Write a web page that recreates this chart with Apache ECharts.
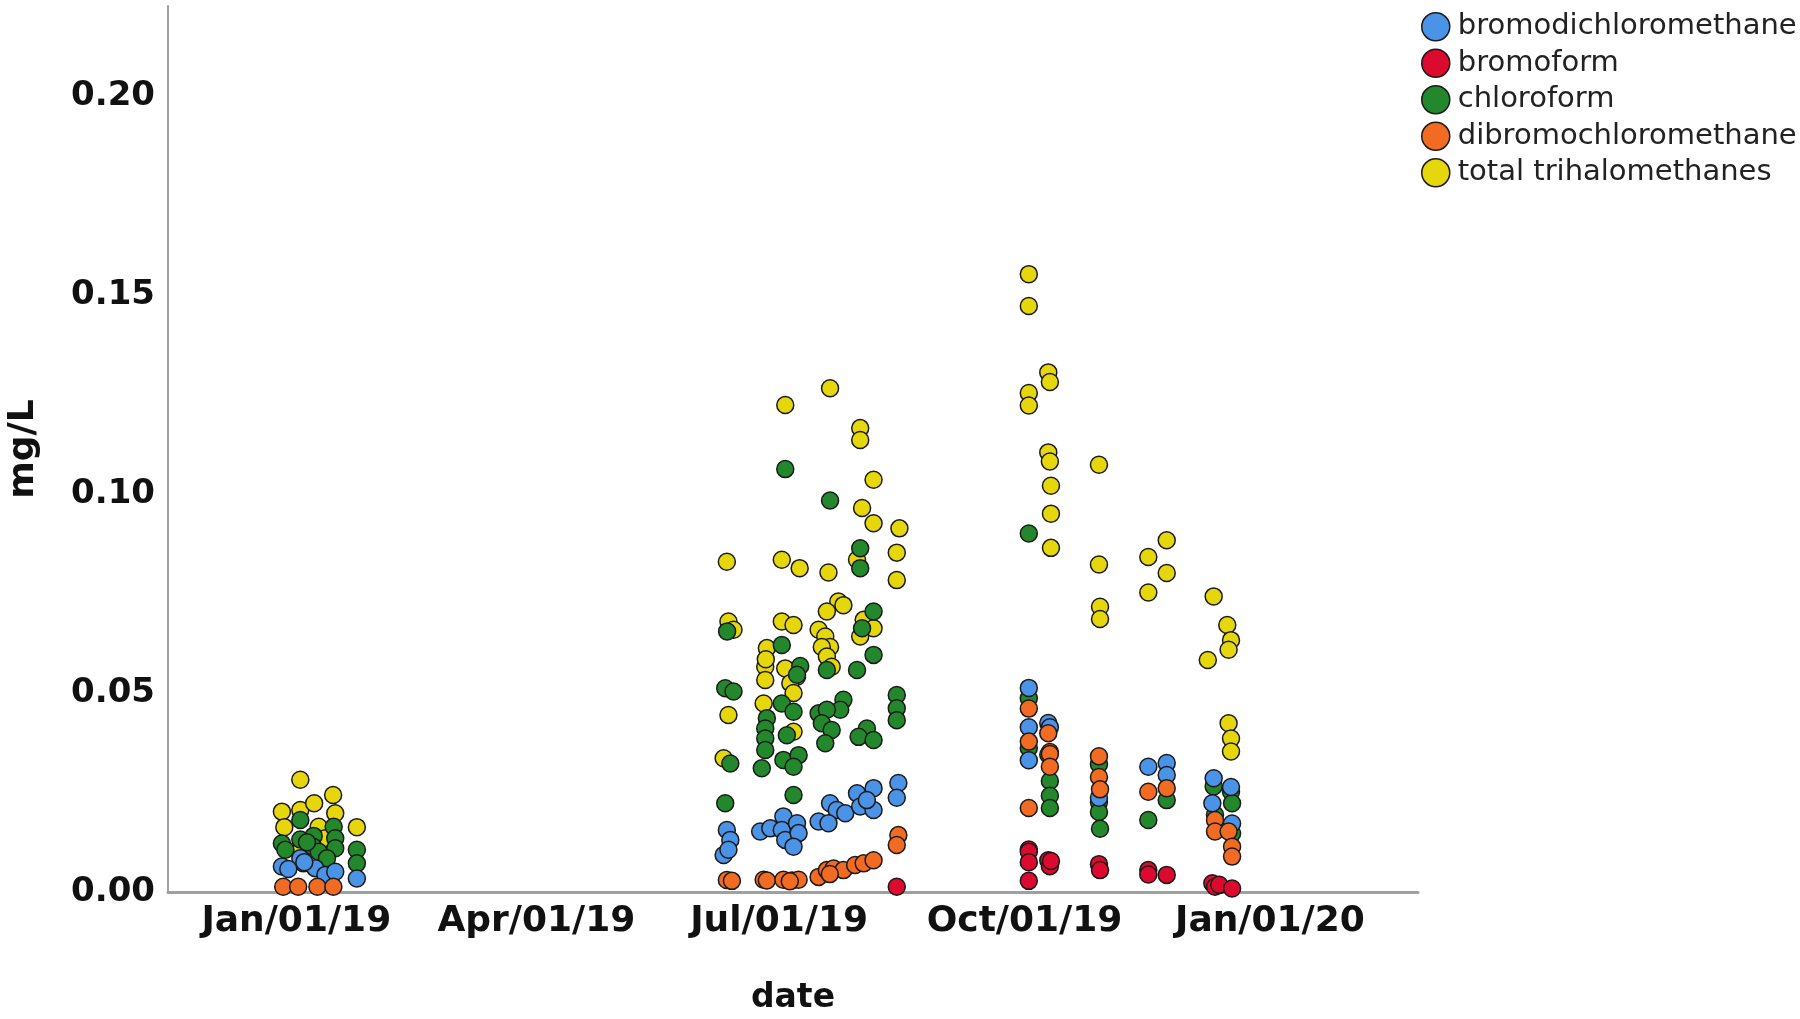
<!DOCTYPE html>
<html>
<head>
<meta charset="utf-8">
<script src="https://cdn.jsdelivr.net/npm/echarts@6/dist/echarts.min.js"></script>
<style>
	html, body { margin: 0; padding: 0; background: #fff; }
	#chart { width: 1800px; height: 1019px; }
</style>
</head>
<body>
<div id="chart"></div>
<script>
// x = days since Jan/01/19, y = mg/L
var tickDays = [0, 90, 181, 273, 365];
var tickLabels = ['Jan/01/19', 'Apr/01/19', 'Jul/01/19', 'Oct/01/19', 'Jan/01/20'];
var yTicks = [0, 0.05, 0.10, 0.15, 0.20];

var bromodichloromethane = [
	// Jan
	[-5.4,.0064],[1.5,.0085],[7.1,.006],[10.9,.0043],[14.6,.0051],[22.7,.0034],[3,.0075],[-3,.0058],
	// Jun-Aug
	[161.4,.0156],[162.7,.0131],[160.2,.0093],[162,.0106],[173.9,.0152],[177.7,.016],[182.6,.019],[182,.0156],
	[183.3,.0131],[187.7,.0173],[188.3,.0148],[186.4,.0114],[195.8,.0177],[200.1,.0223],[202.6,.0206],[199.5,.0173],
	[205.8,.0198],[210.2,.0248],[216.4,.0261],[211.4,.0215],[216.4,.0206],[213.9,.0231],[225.7,.0274],[225.1,.0237],
	// Oct-Dec
	[274.6,.0513],[274.6,.0414],[274.6,.0331],[281.9,.0425],[282.5,.0414],[300.9,.0237],[319.4,.0315],[326.3,.0324],
	[326.3,.0294],[343.9,.0286],[343.4,.0223],[350.4,.0264],[350.8,.0172]
];

var bromoform = [
	[225.1,.0013],
	[274.6,.0107],[274.6,.0101],[274.6,.0075],[274.6,.0028],[281.9,.008],[282.5,.0065],[282.9,.0078],[300.9,.007],
	[301.3,.0055],[319.4,.0055],[319.4,.0044],[326.3,.0043],[343.4,.0022],[344.4,.0013],[346,.0018],[350.8,.0009]
];

var chloroform = [
	[1.5,.0181],[14,.0164],[-5.4,.0122],[-4.1,.0106],[1.5,.0132],[6.5,.0141],[6.3,.0114],[8.4,.0101],
	[14.6,.0135],[14.6,.011],[2.7,.0072],[11.5,.0085],[22.7,.0106],[22.7,.0072],[4,.0125],
	[183.3,.1063],[200.1,.0984],[211.4,.0864],[211.4,.0814],[212.1,.0663],[216.4,.0705],[216.4,.0596],[210.2,.0558],
	[182,.0621],[188.9,.0568],[187.7,.0546],[198.9,.0558],[160.8,.0512],[163.9,.0504],[225.1,.0495],[225.1,.0462],
	[225.1,.0432],[182,.0474],[186.4,.0453],[205.1,.0483],[203.9,.0458],[195.8,.0449],[198.9,.0458],[197,.0424],
	[200.7,.0407],[198.3,.0374],[176.4,.0437],[175.8,.0411],[175.8,.0386],[175.8,.0357],[174.5,.0311],[183.9,.0394],
	[182.6,.0332],[188.3,.0344],[186.4,.0315],[213.9,.0411],[210.8,.039],[216.4,.0382],[162.7,.0323],[160.8,.0223],
	[186.4,.0244],[161.5,.0655],
	[274.6,.0901],[274.6,.0487],[274.6,.0362],[281.9,.0345],[282.5,.0279],[282.5,.0242],[282.5,.0211],[300.9,.0321],
	[300.9,.0226],[300.9,.0201],[301.3,.0159],[319.4,.0181],[326.3,.0231],[343.9,.0265],[344.4,.0194],[350.4,.0252],
	[350.8,.0223],[350.8,.0147]
];

var dibromochloromethane = [
	[-4.9,.0013],[0.7,.0013],[7.9,.0013],[13.9,.0013],
	[161.4,.003],[163.3,.0028],[175.2,.0031],[176.4,.0029],[182.6,.0031],[185.8,.0029],[188.3,.0031],[195.8,.0038],
	[198.9,.0055],[201.4,.0059],[205.1,.0055],[209.5,.0068],[212.7,.0072],[216.4,.008],[225.7,.0143],[225.1,.0118],
	[185,.0027],[200,.0045],
	[274.6,.0461],[274.6,.0378],[274.6,.0211],[281.9,.0399],[282.5,.0352],[282.5,.0347],[282.5,.0315],[300.9,.0341],
	[300.9,.0289],[301.3,.0258],[319.4,.0252],[326.3,.0261],[344.4,.0181],[344.4,.0152],[349.5,.0152],[350.8,.0114],
	[350.8,.0089]
];

var totalTrihalomethanes = [
	[1.5,.0282],[-5.4,.0202],[1.5,.0206],[6.7,.0223],[13.8,.0244],[14.6,.0198],[-4.5,.0163],[8.4,.0164],
	[10.9,.0135],[22.7,.0163],[2,.011],
	[200.1,.1266],[183.3,.1224],[211.4,.1166],[211.4,.1136],[216.4,.1036],[212.1,.0965],[216.4,.0927],[226.1,.0914],
	[225.1,.0853],[225.1,.0784],[161.4,.083],[182,.0835],[188.7,.0814],[199.5,.0803],[210.2,.0835],[203.2,.073],
	[205.1,.0721],[198.9,.0705],[195.8,.0659],[198.3,.0642],[200.1,.0616],[197,.0616],[198.9,.0592],[200.7,.0566],
	[212.7,.0684],[216.4,.0663],[211.4,.0642],[182,.068],[186.4,.0671],[162,.068],[163.9,.0659],[176.4,.0613],
	[175.8,.0566],[175.8,.0533],[183.3,.0562],[187.7,.0541],[185.2,.0525],[186.4,.05],[175.2,.0474],[162,.0445],
	[186.4,.0403],[160.2,.0336],[176,.0585],
	[274.6,.1553],[274.6,.1473],[274.6,.1254],[274.6,.1223],[281.9,.1306],[282.5,.1282],[281.9,.1105],[282.5,.1082],
	[282.9,.1021],[282.9,.0951],[282.9,.0865],[300.9,.1074],[300.9,.0823],[301.3,.0717],[301.3,.0686],[319.4,.0842],
	[319.4,.0753],[326.3,.0884],[326.3,.0802],[343.9,.0743],[341.7,.0583],[349,.0671],[350.4,.0633],[349.5,.0609],
	[349.5,.0424],[350.4,.0386],[350.4,.0353]
];

var font = 'DejaVu Sans';

function dots(name, data, color, z) {
	return {
		name : name,
		type : 'scatter',
		data : data,
		symbolSize : 17,
		z : z,
		itemStyle : { color : color, borderColor : '#1a1a1a', borderWidth : 1.5, opacity : 1 },
		emphasis : { disabled : true }
	};
}

var chart = echarts.init(document.getElementById('chart'));
chart.setOption({
	animation : false,
	backgroundColor : '#fff',
	grid : { left : 168, right : 382, top : 6, bottom : 127, outerBoundsMode : 'none', containLabel : false },
	legend : {
		orient : 'vertical',
		left : 1416,
		top : 7,
		itemWidth : 28,
		itemHeight : 28,
		itemGap : 7,
		icon : 'circle',
		data : ['bromodichloromethane', 'bromoform', 'chloroform', 'dibromochloromethane', 'total trihalomethanes'],
		itemStyle : { borderColor : '#1a1a1a', borderWidth : 1.5 },
		textStyle : { fontFamily : font, fontSize : 29, color : '#222', padding : [0, 0, 0, 3] }
	},
	xAxis : {
		type : 'value',
		min : -48.1,
		max : 420.5,
		name : 'date',
		nameLocation : 'middle',
		nameGap : 90,
		nameTextStyle : { fontFamily : font, fontSize : 33, fontWeight : 'bold', color : '#111' },
		axisLine : { onZero : false, lineStyle : { color : '#a0a0a0', width : 3 } },
		axisTick : { show : false },
		splitLine : { show : false },
		axisLabel : {
			customValues : tickDays,
			margin : 12,
			fontFamily : font,
			fontSize : 36,
			fontWeight : 'bold',
			color : '#111',
			formatter : function(v) {
				var i = tickDays.indexOf(v);
				return i >= 0 ? tickLabels[i] : '';
			}
		}
	},
	yAxis : {
		type : 'value',
		min : 0,
		max : 0.2227,
		name : 'mg/L',
		nameLocation : 'middle',
		nameGap : 126,
		nameRotate : 90,
		nameTextStyle : { fontFamily : font, fontSize : 36, fontWeight : 'bold', color : '#111' },
		axisLine : { show : true, onZero : false, lineStyle : { color : '#a0a0a0', width : 2 } },
		axisTick : { show : false },
		splitLine : { show : false },
		axisLabel : {
			customValues : yTicks,
			margin : 13,
			fontFamily : font,
			fontSize : 34,
			fontWeight : 'bold',
			color : '#111',
			formatter : function(v) { return v.toFixed(2); }
		}
	},
	series : [
		dots('total trihalomethanes', totalTrihalomethanes, '#e6d70c', 1),
		dots('chloroform', chloroform, '#23882b', 2),
		dots('bromodichloromethane', bromodichloromethane, '#4b93e6', 3),
		dots('dibromochloromethane', dibromochloromethane, '#f26b22', 4),
		dots('bromoform', bromoform, '#dc0a2e', 5)
	]
});
</script>
</body>
</html>
